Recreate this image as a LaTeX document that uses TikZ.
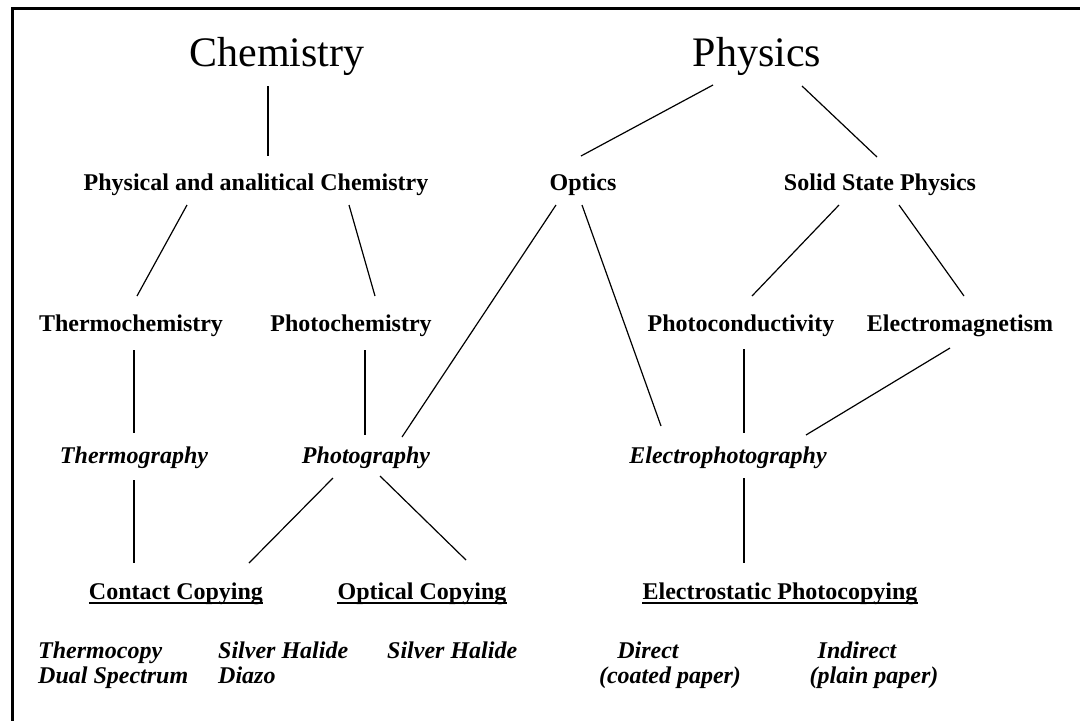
\documentclass[tikz,border=0pt]{standalone}
\usepackage{fontspec}
\setmainfont{Liberation Serif}
\begin{document}
\begin{tikzpicture}[x=1pt,y=-1pt,
  every node/.style={inner sep=0pt, anchor=base},
  big/.style={font=\fontsize{42}{46}\selectfont},
  lab/.style={font=\fontsize{24}{26}\selectfont\bfseries},
  ital/.style={font=\fontsize{24}{26}\selectfont\bfseries\itshape},
  under/.style={font=\fontsize{24}{26}\selectfont\bfseries},
  leaf/.style={font=\fontsize{24}{25}\selectfont\bfseries\itshape},
  conn/.style={line width=1.2pt},
  uline/.style={line width=1.4pt},
  frame/.style={line width=3pt}]
\fill[white] (0,0) rectangle (1080,721);
\useasboundingbox (0,0) rectangle (1080,721);
\coordinate (tl) at (12,8);
\coordinate (tr) at (1080,8);
\coordinate (bl) at (12,721);
\draw[frame] (tr) -- (tl) -- (bl);

\node[big] (chem) at (277,66) {Chemistry};
\node[big] (phys) at (757,66) {Physics};
\node[lab] (pac) at (256,190) {Physical and analitical Chemistry};
\node[lab] (opt) at (583,190) {Optics};
\node[lab] (ssp) at (880,190) {Solid State Physics};
\node[lab] (thc) at (131,331) {Thermochemistry};
\node[lab] (phc) at (351,331) {Photochemistry};
\node[lab] (pcd) at (741,331) {Photoconductivity};
\node[lab] (em) at (960,331) {Electromagnetism};
\node[ital] (thg) at (134,463) {Thermography};
\node[ital] (phg) at (366,463) {Photography};
\node[ital] (ephg) at (728,463) {Electrophotography};
\node[under] (cc) at (176,599) {Contact Copying};
\node[under] (oc) at (422,599) {Optical Copying};
\node[under] (ep) at (780,599) {Electrostatic Photocopying};

\node[leaf, anchor=base west] (l1a) at (38,658) {Thermocopy};
\node[leaf, anchor=base west] (l1b) at (38,683) {Dual Spectrum};
\node[leaf, anchor=base west] (l2a) at (218,658) {Silver Halide};
\node[leaf, anchor=base west] (l2b) at (218,683) {Diazo};
\node[leaf, anchor=base west] (l3a) at (387,658) {Silver Halide};
\node[leaf] (l4a) at (648,658) {Direct};
\node[leaf] (l4b) at (670,683) {(coated paper)};
\node[leaf] (l5a) at (857,658) {Indirect};
\node[leaf] (l5b) at (874,683) {(plain paper)};

\foreach \n in {cc,oc,ep}
  \draw[uline] ([yshift=-4pt]\n.base west) -- ([yshift=-4pt]\n.base east);

\draw[conn] ([shift={(-9,20)}]chem.base) -- ([shift={(12,-34)}]pac.base);
\draw[conn] ([shift={(-44,19)}]phys.base) -- ([shift={(-2,-34)}]opt.base);
\draw[conn] ([shift={(45,20)}]phys.base) -- ([shift={(-3,-33)}]ssp.base);
\draw[conn] ([shift={(-69,15)}]pac.base) -- ([shift={(6,-35)}]thc.base);
\draw[conn] ([shift={(93,15)}]pac.base) -- ([shift={(24,-35)}]phc.base);
\draw[conn] ([shift={(-27,15)}]opt.base) -- ([shift={(36,-26)}]phg.base);
\draw[conn] ([shift={(-1,15)}]opt.base) -- ([shift={(-67,-37)}]ephg.base);
\draw[conn] ([shift={(-41,15)}]ssp.base) -- ([shift={(11,-35)}]pcd.base);
\draw[conn] ([shift={(19,15)}]ssp.base) -- ([shift={(4,-35)}]em.base);
\draw[conn] ([shift={(3,19)}]thc.base) -- ([shift={(0,-30)}]thg.base);
\draw[conn] ([shift={(14,19)}]phc.base) -- ([shift={(-1,-28)}]phg.base);
\draw[conn] ([shift={(3,18)}]pcd.base) -- ([shift={(16,-30)}]ephg.base);
\draw[conn] ([shift={(-10,17)}]em.base) -- ([shift={(78,-28)}]ephg.base);
\draw[conn] ([shift={(0,17)}]thg.base) -- ([shift={(-42,-36)}]cc.base);
\draw[conn] ([shift={(-33,15)}]phg.base) -- ([shift={(73,-36)}]cc.base);
\draw[conn] ([shift={(14,13)}]phg.base) -- ([shift={(44,-39)}]oc.base);
\draw[conn] ([shift={(16,15)}]ephg.base) -- ([shift={(-36,-36)}]ep.base);
\end{tikzpicture}
\end{document}
